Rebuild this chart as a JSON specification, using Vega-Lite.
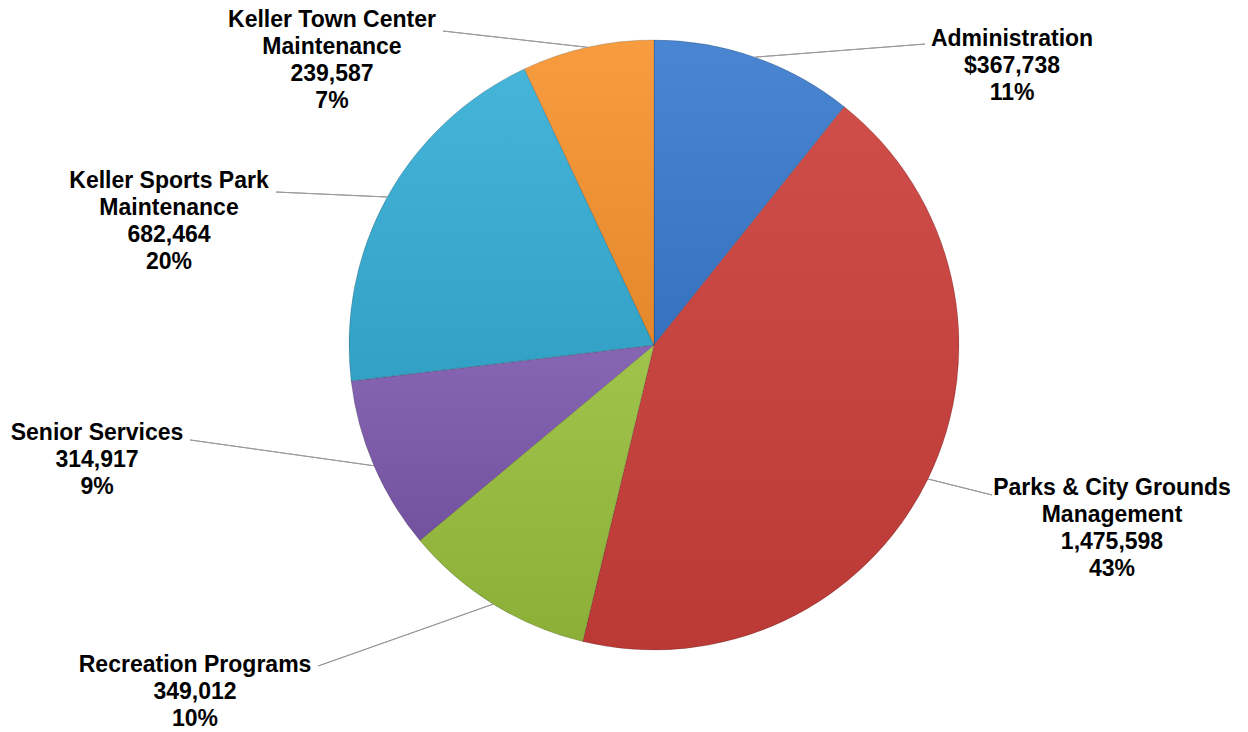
{
  "$schema": "https://vega.github.io/schema/vega-lite/v6.json",
  "width": 1188,
  "height": 690,
  "autosize": "none",
  "padding": {"left": 60, "top": 0, "right": 0, "bottom": 42},
  "background": "#ffffff",
  "config": {"view": {"stroke": null}},
  "data": {
    "values": [
      {"rank": 1, "cat": "Administration", "value": 367738, "label": "Administration\n$367,738\n11%"},
      {"rank": 2, "cat": "Parks & City Grounds Management", "value": 1475598, "label": "Parks & City Grounds\nManagement\n1,475,598\n43%"},
      {"rank": 3, "cat": "Recreation Programs", "value": 349012, "label": "Recreation Programs\n349,012\n10%"},
      {"rank": 4, "cat": "Senior Services", "value": 314917, "label": "Senior Services\n314,917\n9%"},
      {"rank": 5, "cat": "Keller Sports Park Maintenance", "value": 682464, "label": "Keller Sports Park\nMaintenance\n682,464\n20%"},
      {"rank": 6, "cat": "Keller Town Center Maintenance", "value": 239587, "label": "Keller Town Center\nMaintenance\n239,587\n7%"}
    ]
  },
  "layer": [
    {
      "mark": {"type": "arc", "outerRadius": 305, "stroke": "rgba(0,0,0,0.22)", "strokeWidth": 0.8},
      "encoding": {
        "theta": {"field": "value", "type": "quantitative", "stack": true},
        "order": {"field": "rank", "type": "quantitative"},
        "color": {
          "field": "cat",
          "type": "nominal",
          "legend": null,
          "scale": {
            "domain": ["Administration", "Parks & City Grounds Management", "Recreation Programs", "Senior Services", "Keller Sports Park Maintenance", "Keller Town Center Maintenance"],
            "range": ["#3A7BCE", "#CB3E3A", "#98BE3D", "#7C59AD", "#36AED6", "#F6942F"]
          }
        }
      }
    },
    {
      "mark": {
        "type": "arc",
        "outerRadius": 305,
        "fill": {
          "gradient": "linear", "x1": 0, "y1": 0, "x2": 0, "y2": 1,
          "stops": [
            {"offset": 0, "color": "rgba(255,255,255,0.08)"},
            {"offset": 1, "color": "rgba(0,0,0,0.08)"}
          ]
        }
      },
      "encoding": {
        "theta": {"field": "value", "type": "quantitative", "stack": true},
        "order": {"field": "rank", "type": "quantitative"}
      }
    },
    {
      "transform": [
        {"stack": "value", "groupby": [], "sort": [{"field": "rank", "order": "ascending"}], "as": ["s0", "s1"]}
      ],
      "mark": {
        "type": "arc",
        "fill": null,
        "stroke": "#9a9a9a",
        "strokeWidth": 1,
        "innerRadius": 0,
        "x": {"expr": "width/2 + 305*sin((scale('theta', datum.s0) + scale('theta', datum.s1))/2)"},
        "y": {"expr": "height/2 - 305*cos((scale('theta', datum.s0) + scale('theta', datum.s1))/2)"},
        "theta": {"expr": "atan2([170.2,64,-175.1,-183.9,-111.3,-144.6][datum.rank-1], -[-13.1,16,61.9,-25.8,-5,-16.3][datum.rank-1])"},
        "theta2": {"expr": "atan2([170.2,64,-175.1,-183.9,-111.3,-144.6][datum.rank-1], -[-13.1,16,61.9,-25.8,-5,-16.3][datum.rank-1])"},
        "outerRadius": {"expr": "sqrt(pow([170.2,64,-175.1,-183.9,-111.3,-144.6][datum.rank-1],2) + pow([-13.1,16,61.9,-25.8,-5,-16.3][datum.rank-1],2))"}
      },
      "encoding": {"detail": {"field": "cat", "type": "nominal"}}
    },
    {
      "mark": {
        "type": "text",
        "radius": 305,
        "align": "center",
        "baseline": "alphabetic",
        "lineBreak": "\n",
        "lineHeight": 27,
        "font": "Liberation Sans",
        "fontSize": 23,
        "fontWeight": "bold",
        "color": "#000000",
        "dx": {"expr": "[257.2,184,-298.1,-276.9,-218.3,-255.6][datum.rank-1]"},
        "dy": {"expr": "[-11.1,16,67.9,-25.8,-9,-20.3][datum.rank-1]"}
      },
      "encoding": {
        "theta": {"field": "value", "type": "quantitative", "stack": true},
        "order": {"field": "rank", "type": "quantitative"},
        "text": {"field": "label", "type": "nominal"}
      }
    }
  ]
}
